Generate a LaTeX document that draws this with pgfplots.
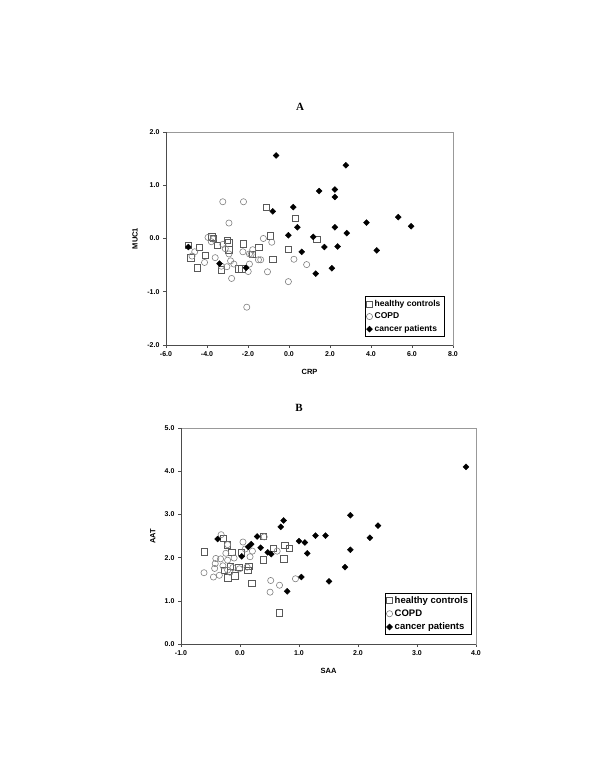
\documentclass[border=0pt]{standalone}
\usepackage{fontspec}
\setmainfont{Liberation Sans}
\newfontfamily\titlefont{Liberation Serif}
\usepackage{pgfplots}
\pgfplotsset{compat=1.18}

% Excel-like scatter style shared by both panels
\pgfplotsset{
  excelscatter/.style={
    scale only axis,
    anchor=south west,
    axis line style={black!40, line width=0.5pt},
    tick align=outside,
    xtick pos=left, ytick pos=left,
    major tick length=3pt,
    tick style={black!70, line width=0.5pt},
    /pgf/number format/assume math mode=true,
    /pgf/number format/.cd, fixed, fixed zerofill, precision=1, /pgfplots/.cd,
    tick label style={font=\fontsize{7}{8}\selectfont\bfseries},
    label style={font=\fontsize{7.5}{9}\selectfont\bfseries},
    legend cell align=left,
    legend style={draw=black, line width=0.5pt, inner sep=1.5pt, row sep=1pt,
      font=\fontsize{8.5}{10}\selectfont\bfseries, anchor=south east},
    clip=false,
    after end axis/.code={
      \draw[black!70, line width=0.6pt] (rel axis cs:0,1) -- (rel axis cs:0,0) -- (rel axis cs:1,0);
    },
  },
  healthy/.style={only marks, mark=square, mark size=3.2pt,
    mark options={draw=black!65, fill=none, line width=0.6pt}},
  copd/.style={only marks, mark=o, mark size=3.1pt,
    mark options={draw=black!50, line width=0.6pt}},
  cancer/.style={only marks, mark=square*, mark size=2.1pt,
    mark options={draw=black, fill=black, rotate=45}},
}

\begin{document}
\begin{tikzpicture}[x=1pt,y=1pt]
\useasboundingbox (0,0) rectangle (600,776);

\node[font=\titlefont\bfseries\fontsize{11}{13}\selectfont] at (300,669) {A};
\node[font=\titlefont\bfseries\fontsize{11}{13}\selectfont] at (299,368) {B};

% Panel A: MUC1 vs CRP
\begin{axis}[excelscatter,
  at={(166pt,431pt)}, width=287pt, height=213pt,
  xmin=-6, xmax=8, ymin=-2, ymax=2,
  xtick={-6,-4,...,8}, ytick={-2,-1,...,2},
  xlabel={CRP}, ylabel={MUC1},
  xlabel style={at={(axis description cs:0.5,-0.127)}, anchor=center},
  ylabel style={at={(axis description cs:-0.108,0.5)}, anchor=center},
  legend style={at={(rel axis cs:0.969,0.039)}},
]
\addplot[healthy] coordinates {
(-4.91,-0.13) (-4.80,-0.36) (-4.39,-0.17) (-4.47,-0.55) (-4.08,-0.31)
(-3.76,0.03) (-3.50,-0.13) (-3.31,-0.59) (-3.01,-0.03) (-2.93,-0.08)
(-2.93,-0.21) (-2.45,-0.57) (-2.30,-0.57) (-2.22,-0.10) (-1.47,-0.16)
(-1.12,0.59) (-0.92,0.05) (-0.79,-0.39) (-0.02,-0.20) (0.31,0.375)
(1.36,-0.01) (-1.80,-0.30) (-3.70,0.00)
};
\addplot[copd] coordinates {
(-4.73,-0.33) (-4.60,-0.25) (-4.12,-0.45) (-3.95,0.02) (-3.79,-0.06)
(-3.70,-0.01) (-3.60,-0.36) (-3.23,0.69) (-3.23,-0.11) (-3.11,-0.19)
(-3.03,-0.53) (-2.93,0.29) (-2.93,-0.29) (-2.85,-0.42) (-2.80,-0.75)
(-2.69,-0.48) (-3.30,-0.52) (-2.22,0.69) (-2.25,-0.25) (-1.93,-0.29)
(-1.93,-0.48) (-1.99,-0.62) (-2.06,-1.29) (-1.77,-0.21) (-1.49,-0.40)
(-1.38,-0.40) (-1.25,0.00) (-1.05,-0.625) (-0.84,-0.07) (-0.03,-0.81)
(0.24,-0.39) (0.86,-0.49) (-1.85,-0.30)
};
\addplot[cancer] coordinates {
(-4.91,-0.16) (-0.63,1.56) (2.77,1.375) (1.47,0.89) (2.24,0.92)
(2.24,0.78) (-0.79,0.51) (0.21,0.59) (3.78,0.30) (5.33,0.40)
(5.96,0.23) (0.41,0.21) (2.24,0.21) (2.82,0.10) (-0.03,0.06)
(1.18,0.03) (1.73,-0.16) (2.37,-0.15) (0.62,-0.25) (4.28,-0.225)
(1.30,-0.66) (2.09,-0.56) (-3.39,-0.47) (-2.09,-0.55)
};
\legend{healthy controls, COPD, cancer patients}
\end{axis}

% Panel B: AAT vs SAA
\begin{axis}[excelscatter,
  at={(181pt,132pt)}, width=295pt, height=216pt,
  xmin=-1, xmax=4, ymin=0, ymax=5,
  xtick={-1,0,...,4}, ytick={0,1,...,5},
  xlabel={SAA}, ylabel={AAT},
  xlabel style={at={(axis description cs:0.5,-0.125)}, anchor=center},
  ylabel style={at={(axis description cs:-0.096,0.5)}, anchor=center},
  legend style={at={(rel axis cs:0.986,0.042)}, font=\fontsize{9.5}{11}\selectfont\bfseries},
]
\addplot[healthy] coordinates {
(-0.61,2.13) (-0.28,2.45) (-0.22,2.30) (-0.14,2.12) (-0.21,1.53)
(-0.09,1.58) (-0.02,1.78) (0.15,1.80) (0.13,1.71) (0.20,1.40)
(0.39,2.49) (0.39,1.95) (0.56,2.21) (0.74,1.97) (0.76,2.28)
(0.84,2.22) (0.67,0.72) (-0.16,1.80) (0.02,2.12) (-0.27,1.70)
};
\addplot[copd] coordinates {
(-0.61,1.65) (-0.45,1.55) (-0.41,1.98) (-0.42,1.86) (-0.43,1.75)
(-0.33,1.97) (-0.32,2.53) (-0.35,1.59) (-0.29,1.81) (-0.21,1.71)
(-0.21,2.30) (-0.21,1.94) (-0.10,1.99) (-0.17,1.66) (-0.12,1.77)
(-0.01,1.74) (0.05,2.36) (0.12,1.78) (0.17,2.02) (0.21,2.15)
(0.41,2.48) (0.63,2.15) (0.52,1.47) (0.51,1.20) (0.67,1.36)
(0.94,1.51) (-0.24,2.10) (0.09,2.20)
};
\addplot[cancer] coordinates {
(-0.38,2.43) (0.03,2.03) (0.14,2.25) (0.19,2.31) (0.29,2.49)
(0.35,2.23) (0.47,2.12) (0.53,2.08) (0.69,2.71) (0.74,2.86)
(0.80,1.22) (1.00,2.38) (1.04,1.55) (1.10,2.35) (1.14,2.10)
(1.28,2.51) (1.45,2.51) (1.51,1.45) (1.78,1.78) (1.87,2.18)
(1.87,2.98) (2.20,2.46) (2.34,2.74) (3.83,4.10)
};
\legend{healthy controls, COPD, cancer patients}
\end{axis}
\end{tikzpicture}
\end{document}
